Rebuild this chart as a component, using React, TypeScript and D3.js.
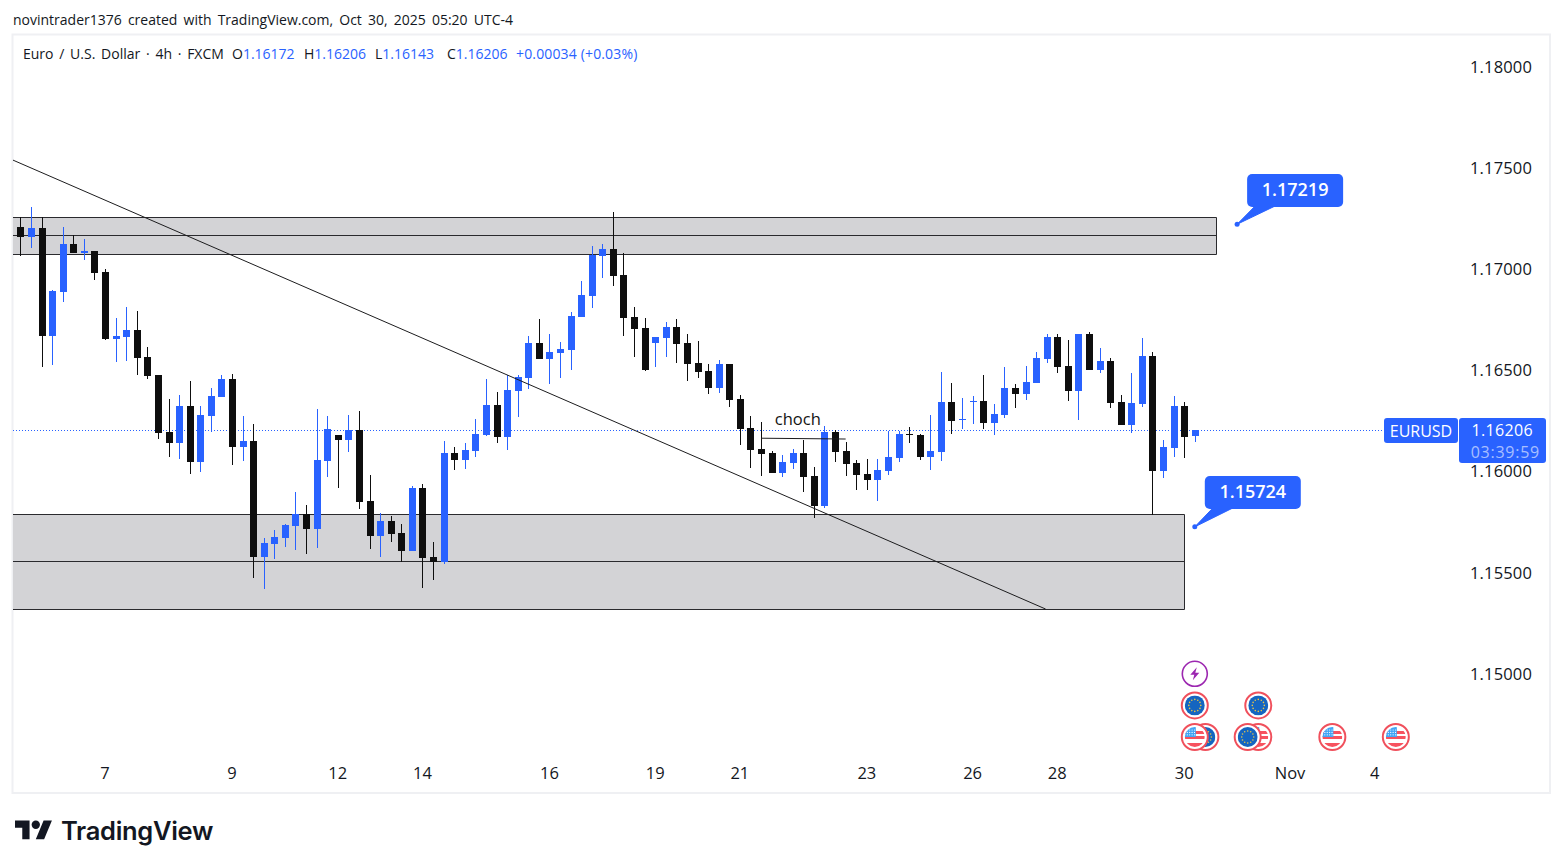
import React, { useEffect, useRef } from "react";
import * as d3 from "d3";

const opens = [
  1.17205, 1.17156, 1.172, 1.16667, 1.16884, 1.17121, 1.17077, 1.17087, 1.16983, 1.16652,
  1.16662, 1.16697, 1.16563, 1.16474, 1.16193, 1.16138, 1.16321, 1.16044, 1.16272, 1.16366,
  1.16454, 1.16119, 1.16148, 1.15575, 1.15639, 1.15669, 1.15728, 1.15788, 1.15713, 1.16049,
  1.16178, 1.16153, 1.16203, 1.15852, 1.15679, 1.15753, 1.15694, 1.15605, 1.15916, 1.15575,
  1.1555, 1.16089, 1.16054, 1.16099, 1.16178, 1.16326, 1.16168, 1.16395, 1.16459, 1.16632,
  1.16553, 1.16583, 1.16598, 1.16761, 1.16865, 1.17062, 1.17097, 1.16968, 1.16761, 1.16706,
  1.16632, 1.16657, 1.16711, 1.16632, 1.16534, 1.16494, 1.1641, 1.16529, 1.16356, 1.16212,
  1.16109, 1.16089, 1.1599, 1.1604, 1.16089, 1.15975, 1.15827, 1.16193, 1.16099, 1.1604,
  1.15985, 1.15956, 1.16, 1.16064, 1.16183, 1.16178, 1.16069, 1.16094, 1.16341, 1.16252,
  1.16341, 1.16346, 1.16237, 1.16277, 1.1641, 1.1638, 1.16435, 1.16553, 1.16662, 1.16519,
  1.16395, 1.16677, 1.16499, 1.16543, 1.16341, 1.16227, 1.16331, 1.16568, 1.16, 1.16114,
  1.16321, 1.16172,
];
const closes = [
  1.17156, 1.172, 1.16667, 1.16889, 1.17121, 1.17077, 1.17087, 1.16978, 1.16652, 1.16667,
  1.16697, 1.16558, 1.16469, 1.16188, 1.16138, 1.16321, 1.16044, 1.16277, 1.16371, 1.16454,
  1.16119, 1.16148, 1.15575, 1.15644, 1.15674, 1.15733, 1.15788, 1.15713, 1.16054, 1.16207,
  1.16153, 1.16203, 1.15847, 1.15679, 1.15753, 1.15689, 1.15605, 1.15916, 1.1557, 1.1555,
  1.16089, 1.16054, 1.16104, 1.16183, 1.16326, 1.16168, 1.164, 1.16464, 1.16632, 1.16553,
  1.16588, 1.16603, 1.16766, 1.16869, 1.17067, 1.17097, 1.16963, 1.16756, 1.16701, 1.16499,
  1.16662, 1.16711, 1.16627, 1.16529, 1.16489, 1.1641, 1.16529, 1.16351, 1.16207, 1.16104,
  1.16084, 1.1599, 1.16044, 1.16089, 1.1597, 1.15827, 1.16193, 1.16094, 1.16035, 1.1598,
  1.15956, 1.16005, 1.16069, 1.16183, 1.16178, 1.16069, 1.16099, 1.16341, 1.16247, 1.16257,
  1.16346, 1.16237, 1.16282, 1.1641, 1.1638, 1.1644, 1.16558, 1.16662, 1.16514, 1.16395,
  1.16677, 1.16499, 1.16543, 1.16336, 1.16227, 1.16336, 1.16568, 1.16, 1.16119, 1.16321,
  1.16168, 1.16203,
];
const highs = [
  1.17255, 1.17304, 1.17255, 1.16894, 1.17205, 1.17166, 1.17146, 1.17087, 1.16998, 1.16756,
  1.1681, 1.1679, 1.16613, 1.16474, 1.16356, 1.16375, 1.16445, 1.16321, 1.1641, 1.16474,
  1.16479, 1.16272, 1.16232, 1.15669, 1.15709, 1.15738, 1.15896, 1.15832, 1.16306, 1.16272,
  1.16178, 1.16277, 1.16296, 1.1598, 1.15793, 1.15778, 1.15738, 1.15926, 1.15936, 1.15649,
  1.16148, 1.16119, 1.16138, 1.16257, 1.16454, 1.1639, 1.16474, 1.16474, 1.16667, 1.16751,
  1.16677, 1.16637, 1.16785, 1.16939, 1.17112, 1.17121, 1.17279, 1.17077, 1.1681, 1.16756,
  1.16662, 1.16736, 1.16751, 1.16677, 1.16642, 1.16529, 1.16548, 1.16529, 1.16375, 1.16272,
  1.16242, 1.16099, 1.16079, 1.16109, 1.16153, 1.1602, 1.16222, 1.16203, 1.16143, 1.16054,
  1.16059, 1.16059, 1.16198, 1.16198, 1.16217, 1.16183, 1.16277, 1.16489, 1.16435, 1.16361,
  1.16371, 1.16474, 1.16331, 1.16514, 1.1643, 1.16519, 1.16588, 1.16677, 1.16677, 1.16647,
  1.16677, 1.16687, 1.16608, 1.16558, 1.16375, 1.16484, 1.16657, 1.16588, 1.16153, 1.16371,
  1.16341, 1.16203,
];
const lows = [
  1.17062, 1.17102, 1.16514, 1.16524, 1.16835, 1.17077, 1.17042, 1.16944, 1.16647, 1.16538,
  1.16543, 1.16474, 1.16454, 1.16158, 1.16069, 1.16059, 1.15985, 1.15995, 1.16193, 1.16366,
  1.1603, 1.16049, 1.15471, 1.15417, 1.15565, 1.15625, 1.1561, 1.1559, 1.1562, 1.1597,
  1.15916, 1.16094, 1.15812, 1.15615, 1.15575, 1.15649, 1.1555, 1.15605, 1.15422, 1.15462,
  1.15541, 1.16005, 1.1601, 1.16069, 1.16173, 1.16138, 1.16104, 1.16267, 1.16405, 1.16553,
  1.1643, 1.16459, 1.16499, 1.16761, 1.16805, 1.16953, 1.16914, 1.16667, 1.16563, 1.16494,
  1.16514, 1.16563, 1.16534, 1.16445, 1.16459, 1.1638, 1.16385, 1.16316, 1.16128, 1.16015,
  1.15975, 1.1599, 1.1597, 1.1601, 1.15896, 1.15768, 1.15817, 1.16044, 1.15975, 1.15906,
  1.15906, 1.15852, 1.1598, 1.16044, 1.16138, 1.16054, 1.16005, 1.16049, 1.16183, 1.16207,
  1.16232, 1.16207, 1.16178, 1.16262, 1.16311, 1.16351, 1.16435, 1.16534, 1.16484, 1.16346,
  1.16252, 1.16499, 1.16484, 1.16311, 1.16227, 1.16188, 1.16316, 1.15783, 1.15965, 1.16069,
  1.16064, 1.16143,
];

const priceTicks = [1.18, 1.175, 1.17, 1.165, 1.16, 1.155, 1.15];
const dateTickBars = [8, 20, 30, 38, 50, 60, 68, 80, 90, 98, 110, 120, 128];
const dateTickLabels = ["7", "9", "12", "14", "16", "19", "21", "23", "26", "28", "30", "Nov", "4"];

const lastPriceLabel = "1.16206";
const countdownLabel = "03:39:59";

// top, middle line, bottom, last bar of the box
const zoneTops = [1.17255, 1.15788];
const zoneMids = [1.17165, 1.15555];
const zoneBottoms = [1.1707, 1.15318];
const zoneEndBars = [113, 110];

const trendBars = [-0.7, 96.9];
const trendPrices = [1.17536, 1.15318];

const chochBars = [70, 78];
const chochPrices = [1.16162, 1.16158];

const calloutBars = [115, 111];
const calloutPrices = [1.17219, 1.15724];

// economic calendar markers, stacked upward when they share a bar
const eventBars = [112, 111, 117, 116, 124, 130, 111, 117, 111];
const eventKinds = ["eu", "us", "us", "eu", "us", "us", "eu", "eu", "bolt"];

const BLUE = "#2962ff";
const DARK = "#131722";
const FONT = "'Open Sans', 'Noto Sans', sans-serif";

export default function App() {
  const svgRef = useRef<SVGSVGElement | null>(null);

  useEffect(() => {
    if (!svgRef.current) return;
    const svg = d3.select(svgRef.current);
    svg.selectAll("*").remove();

    const width = 1563;
    const height = 868;

    const x = d3.scaleLinear().domain([0, 111]).range([20.4, 1194.8]);
    const y = d3.scaleLinear().domain([1.15, 1.18]).range([673.4, 66.2]);

    svg.append("rect").attr("width", width).attr("height", height).attr("fill", "#ffffff");

    // header
    svg
      .append("text")
      .attr("x", 13)
      .attr("y", 25)
      .attr("font-size", 14)
      .attr("word-spacing", 2.5)
      .attr("fill", DARK)
      .text("novintrader1376 created with TradingView.com, Oct 30, 2025 05:20 UTC-4");

    // chart frame
    svg
      .append("rect")
      .attr("x", 12.5)
      .attr("y", 34.5)
      .attr("width", 1537.5)
      .attr("height", 758.5)
      .attr("fill", "none")
      .attr("stroke", "#eff0f3")
      .attr("stroke-width", 2);

    // legend line
    const legend = svg
      .append("text")
      .attr("x", 23)
      .attr("y", 59)
      .attr("font-size", 14)
      .attr("fill", DARK);
    legend.append("tspan").attr("word-spacing", 2.1).text("Euro / U.S. Dollar · 4h · FXCM");
    const legendParts: [string, string][] = [
      ["O", "1.16172"],
      ["H", "1.16206"],
      ["L", "1.16143"],
      ["C", "1.16206"],
    ];
    legendParts.forEach(([k, v], i) => {
      legend.append("tspan").attr("x", [232, 304, 375, 447][i]).text(k);
      legend.append("tspan").attr("fill", BLUE).text(v);
    });
    legend.append("tspan").attr("x", 516).attr("fill", BLUE).attr("letter-spacing", 0.15).text("+0.00034 (+0.03%)");

    // zones
    zoneTops.forEach((top, i) => {
      const x0 = 13;
      const x1 = Math.round(x(zoneEndBars[i])) + 0.5;
      const yTop = Math.round(y(top)) + 0.5;
      const yBot = Math.round(y(zoneBottoms[i])) + 0.5;
      const yMid = Math.round(y(zoneMids[i])) + 0.5;
      svg
        .append("rect")
        .attr("x", x0)
        .attr("y", yTop)
        .attr("width", x1 - x0)
        .attr("height", yBot - yTop)
        .attr("fill", "#d3d3d6");
      svg
        .append("path")
        .attr("d", `M${x0},${yTop}H${x1}V${yBot}H${x0}M${x0},${yMid}H${x1}`)
        .attr("fill", "none")
        .attr("stroke", "#2a2a2e")
        .attr("stroke-width", 1);
    });

    // last price line
    const lastY = Math.round(y(closes[closes.length - 1])) + 0.5;
    svg
      .append("line")
      .attr("x1", 13)
      .attr("x2", 1384)
      .attr("y1", lastY)
      .attr("y2", lastY)
      .attr("stroke", BLUE)
      .attr("stroke-width", 1)
      .attr("stroke-dasharray", "1 2")
      .attr("shape-rendering", "crispEdges");

    // candles
    const candles = svg.append("g").attr("shape-rendering", "crispEdges");
    opens.forEach((open, i) => {
      const close = closes[i];
      const color = close >= open ? BLUE : "#0e0e0e";
      const xi = Math.round(x(i));
      const hi = Math.round(y(highs[i]));
      const lo = Math.round(y(lows[i]));
      candles
        .append("rect")
        .attr("x", xi)
        .attr("y", hi)
        .attr("width", 1)
        .attr("height", Math.max(lo - hi, 1))
        .attr("fill", color);
      const top = Math.round(y(Math.max(open, close)));
      const bot = Math.round(y(Math.min(open, close)));
      candles
        .append("rect")
        .attr("x", xi - 3)
        .attr("y", top)
        .attr("width", 7)
        .attr("height", Math.max(bot - top, 1))
        .attr("fill", color);
    });

    // trend line
    svg
      .append("line")
      .attr("x1", x(trendBars[0]))
      .attr("y1", y(trendPrices[0]))
      .attr("x2", x(trendBars[1]))
      .attr("y2", y(trendPrices[1]))
      .attr("stroke", "#1c1c1e")
      .attr("stroke-width", 1);

    // choch
    svg
      .append("line")
      .attr("x1", x(chochBars[0]))
      .attr("y1", y(chochPrices[0]))
      .attr("x2", x(chochBars[1]))
      .attr("y2", y(chochPrices[1]))
      .attr("stroke", "#1c1c1e")
      .attr("stroke-width", 1);
    svg
      .append("text")
      .attr("x", (x(chochBars[0]) + x(chochBars[1])) / 2 - 5.5)
      .attr("y", y(chochPrices[0]) - 13.5)
      .attr("text-anchor", "middle")
      .attr("font-size", 16.5)
      .attr("fill", "#131313")
      .text("choch");

    // price callouts
    calloutPrices.forEach((price, i) => {
      const ax = x(calloutBars[i]);
      const ay = y(price);
      const bx = ax + 10;
      const by = Math.floor(ay - 50);
      svg
        .append("path")
        .attr("d", `M${ax},${ay}L${bx + 8},${by + 32}H${bx + 28}Z`)
        .attr("fill", BLUE)
        .attr("stroke", BLUE)
        .attr("stroke-width", 1);
      svg.append("circle").attr("cx", ax).attr("cy", ay).attr("r", 2.5).attr("fill", BLUE);
      svg
        .append("rect")
        .attr("x", bx)
        .attr("y", by)
        .attr("width", 96)
        .attr("height", 33)
        .attr("rx", 5)
        .attr("fill", BLUE);
      svg
        .append("text")
        .attr("x", bx + 48)
        .attr("y", by + 22)
        .attr("text-anchor", "middle")
        .attr("font-size", 18)
        .attr("font-weight", 600)
        .attr("fill", "#ffffff")
        .text(price.toFixed(5));
    });

    // price axis
    svg
      .append("g")
      .selectAll("text")
      .data(priceTicks)
      .join("text")
      .attr("x", 1532)
      .attr("y", (d) => y(d) + 6.3)
      .attr("text-anchor", "end")
      .attr("font-size", 16.5)
      .attr("letter-spacing", 0.15)
      .attr("fill", DARK)
      .text((d) => d.toFixed(5));

    // last price tags
    svg
      .append("rect")
      .attr("x", 1384)
      .attr("y", 418)
      .attr("width", 74)
      .attr("height", 25)
      .attr("rx", 3)
      .attr("fill", BLUE);
    svg
      .append("text")
      .attr("x", 1421)
      .attr("y", 436.5)
      .attr("text-anchor", "middle")
      .attr("font-size", 16)
      .attr("font-weight", 500)
      .attr("fill", "#ffffff")
      .text("EURUSD");
    svg
      .append("rect")
      .attr("x", 1459)
      .attr("y", 418)
      .attr("width", 87)
      .attr("height", 45)
      .attr("rx", 3)
      .attr("fill", BLUE);
    svg
      .append("text")
      .attr("x", 1533)
      .attr("y", 436)
      .attr("text-anchor", "end")
      .attr("font-size", 16)
      .attr("letter-spacing", 0.35)
      .attr("fill", "#ffffff")
      .text(lastPriceLabel);
    svg
      .append("text")
      .attr("x", 1540)
      .attr("y", 458)
      .attr("text-anchor", "end")
      .attr("font-size", 16)
      .attr("letter-spacing", 0.75)
      .attr("fill", "#ffffff")
      .attr("fill-opacity", 0.6)
      .text(countdownLabel);

    // date axis
    svg
      .append("g")
      .selectAll("text")
      .data(dateTickBars)
      .join("text")
      .attr("x", (d) => x(d))
      .attr("y", 778.5)
      .attr("text-anchor", "middle")
      .attr("font-size", 16.5)
      .attr("fill", DARK)
      .text((_, i) => dateTickLabels[i]);

    // calendar markers
    const defs = svg.append("defs");
    const seen: Record<number, number> = {};
    eventBars.forEach((bar, i) => {
      const row = seen[bar] || 0;
      seen[bar] = row + 1;
      const cx = x(bar);
      const cy = 737 - 31.6 * row;
      const g = svg.append("g").attr("transform", `translate(${cx},${cy})`);
      const kind = eventKinds[i];
      if (kind === "bolt") {
        g.append("circle").attr("r", 12.5).attr("fill", "#fff").attr("stroke", "#9c27b0").attr("stroke-width", 1.6);
        g.append("path").attr("d", "M2,-6.5L-4.5,1H-0.5L-2,6.5L4.5,-1H0.5Z").attr("fill", "#9c27b0");
        return;
      }
      g.append("circle").attr("r", 13).attr("fill", "#fff").attr("stroke", "#f0505c").attr("stroke-width", 2);
      const id = `flag${i}`;
      defs.append("clipPath").attr("id", id).append("circle").attr("r", 10);
      const flag = g.append("g").attr("clip-path", `url(#${id})`);
      if (kind === "eu") {
        flag.append("rect").attr("x", -10).attr("y", -10).attr("width", 20).attr("height", 20).attr("fill", "#1565c0");
        d3.range(12).forEach((k) => {
          const a = (k / 12) * 2 * Math.PI;
          flag
            .append("circle")
            .attr("cx", 6 * Math.cos(a))
            .attr("cy", 6 * Math.sin(a))
            .attr("r", 0.8)
            .attr("fill", "#e8c547");
        });
      } else {
        flag.append("rect").attr("x", -10).attr("y", -10).attr("width", 20).attr("height", 20).attr("fill", "#ffffff");
        [-6, -1, 6].forEach((sy) => {
          flag.append("rect").attr("x", -10).attr("y", sy).attr("width", 20).attr("height", sy === 6 ? 4 : 3).attr("fill", "#f7525f");
        });
        flag.append("rect").attr("x", -10).attr("y", -10).attr("width", 11).attr("height", 10).attr("fill", "#42a5f5");
        d3.range(3).forEach((r) =>
          d3.range(4).forEach((c) => {
            flag.append("circle").attr("cx", -7.5 + c * 2.4).attr("cy", -7 + r * 2.4).attr("r", 0.6).attr("fill", "#fff");
          })
        );
      }
    });

    // logo
    const logo = svg.append("g").attr("transform", "translate(15,816.4) scale(1.04)").attr("fill", DARK);
    logo.append("path").attr("d", "M14 22H7V11H0V4h14v18zM28 22h-8l7.5-18h8L28 22z");
    logo.append("circle").attr("cx", 20).attr("cy", 8).attr("r", 4);
    svg
      .append("text")
      .attr("x", 61)
      .attr("y", 839.5)
      .attr("font-family", "Inter, sans-serif")
      .attr("font-size", 25.5)
      .attr("font-weight", 600)
      .attr("letter-spacing", -0.3)
      .attr("fill", DARK)
      .text("TradingView");
  }, []);

  return (
    <svg
      ref={svgRef}
      width={1563}
      height={868}
      style={{ position: "absolute", left: 0, top: 0, fontFamily: FONT }}
    />
  );
}
